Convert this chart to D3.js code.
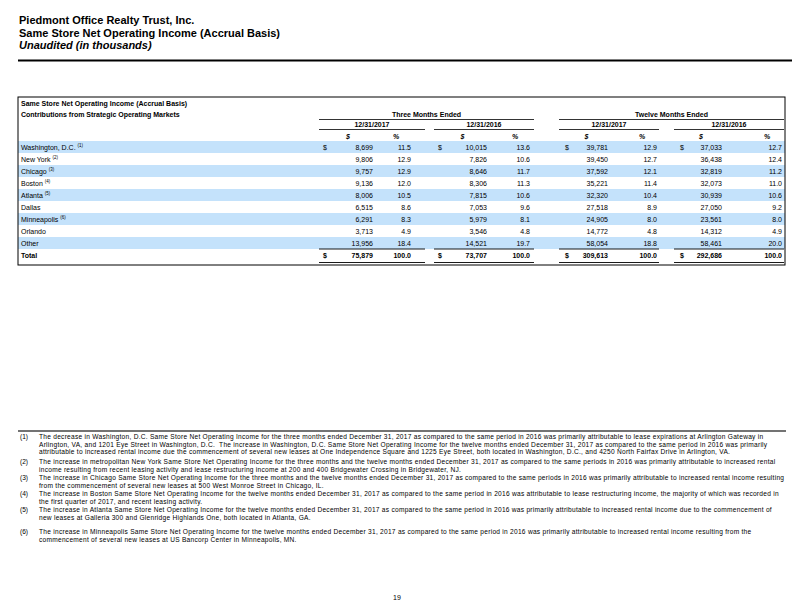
<!DOCTYPE html>
<html>
<head>
<meta charset="utf-8">
<script src="https://cdn.jsdelivr.net/npm/d3@7"></script>
<style>
  body { margin: 0; background: #fff; }
  svg text { font-family: "Liberation Sans", Arial, sans-serif; fill: #000; }
</style>
</head>
<body>
<div id="page"></div>
<script>
// table data
const markets = ["Washington, D.C.", "New York", "Chicago", "Boston", "Atlanta", "Dallas", "Minneapolis", "Orlando", "Other"];
const marketNotes = [1, 2, 3, 4, 5, null, 6, null, null];

const q4_2017 = [8699, 9806, 9757, 9136, 8006, 6515, 6291, 3713, 13956];
const q4_2017Pct = [11.5, 12.9, 12.9, 12.0, 10.5, 8.6, 8.3, 4.9, 18.4];
const q4_2016 = [10015, 7826, 8646, 8306, 7815, 7053, 5979, 3546, 14521];
const q4_2016Pct = [13.6, 10.6, 11.7, 11.3, 10.6, 9.6, 8.1, 4.8, 19.7];
const fy_2017 = [39781, 39450, 37592, 35221, 32320, 27518, 24905, 14772, 58054];
const fy_2017Pct = [12.9, 12.7, 12.1, 11.4, 10.4, 8.9, 8.0, 4.8, 18.8];
const fy_2016 = [37033, 36438, 32819, 32073, 30939, 27050, 23561, 14312, 58461];
const fy_2016Pct = [12.7, 12.4, 11.2, 11.0, 10.6, 9.2, 8.0, 4.9, 20.0];

const totals = [75879, 73707, 309613, 292686];
const totalPct = [100.0, 100.0, 100.0, 100.0];

const periods = ["Three Months Ended", "Twelve Months Ended"];
const dates = ["12/31/2017", "12/31/2016", "12/31/2017", "12/31/2016"];

const footnotes = [
  ["The decrease in Washington, D.C. Same Store Net Operating Income for the three months ended December 31, 2017 as compared to the same period in 2016 was primarily attributable to lease expirations at Arlington Gateway in",
   "Arlington, VA, and 1201 Eye Street in Washington, D.C.  The increase in Washington, D.C. Same Store Net Operating Income for the twelve months ended December 31, 2017 as compared to the same period in 2016 was primarily",
   "attributable to increased rental income due the commencement of several new leases at One Independence Square and 1225 Eye Street, both located in Washington, D.C., and 4250 North Fairfax Drive in Arlington, VA."],
  ["The increase in metropolitan New York Same Store Net Operating Income for the three months and the twelve months ended December 31, 2017 as compared to the same periods in 2016 was primarily attributable to increased rental",
   "income resulting from recent leasing activity and lease restructuring income at 200 and 400 Bridgewater Crossing in Bridgewater, NJ."],
  ["The increase in Chicago Same Store Net Operating Income for the three months and the twelve months ended December 31, 2017 as compared to the same periods in 2016 was primarily attributable to increased rental income resulting",
   "from the commencement of several new leases at 500 West Monroe Street in Chicago, IL."],
  ["The increase in Boston Same Store Net Operating Income for the twelve months ended December 31, 2017 as compared to the same period in 2016 was attributable to lease restructuring income, the majority of which was recorded in",
   "the first quarter of 2017, and recent leasing activity."],
  ["The increase in Atlanta Same Store Net Operating Income for the twelve months ended December 31, 2017 as compared to the same period in 2016 was primarily attributable to increased rental income due to the commencement of",
   "new leases at Galleria 300 and Glenridge Highlands One, both located in Atlanta, GA."],
  ["The increase in Minneapolis Same Store Net Operating Income for the twelve months ended December 31, 2017 as compared to the same period in 2016 was primarily attributable to increased rental income resulting from the",
   "commencement of several new leases at US Bancorp Center in Minneapolis, MN."]
];

const W = 792, H = 612;
const svg = d3.select("#page").append("svg").attr("width", W).attr("height", H);

// page heading
const heading = svg.append("g").attr("font-size", 11).attr("font-weight", "bold");
heading.append("text").attr("x", 19).attr("y", 24).text("Piedmont Office Realty Trust, Inc.");
heading.append("text").attr("x", 19).attr("y", 36.5).text("Same Store Net Operating Income (Accrual Basis)");
heading.append("text").attr("x", 19).attr("y", 49).attr("font-style", "italic").text("Unaudited (in thousands)");
heading.append("line").attr("x1", 18).attr("x2", W).attr("y1", 60.5).attr("y2", 60.5)
  .attr("stroke", "#000").attr("stroke-width", 2);

// table geometry
const box = {left: 18, right: 785, top: 97, bottom: 265};
const cols = [
  {x0: 319, x1: 425, dollar: 323, val: 373, pct: 411},
  {x0: 434, x1: 534, dollar: 438, val: 487, pct: 530},
  {x0: 559, x1: 659, dollar: 565, val: 608, pct: 657},
  {x0: 674, x1: 784, dollar: 680, val: 722, pct: 782}
];
const periodSpan = [[319, 534], [559, 784]];

const rowNames = markets.concat(["Total"]);
const y = d3.scaleBand().domain(rowNames).range([141, 261]);
const fmtVal = d3.format(",");
const fmtPct = d3.format(".1f");
const values = [q4_2017, q4_2016, fy_2017, fy_2016];
const pcts = [q4_2017Pct, q4_2016Pct, fy_2017Pct, fy_2016Pct];

const table = svg.append("g").attr("font-size", 7);

// striped rows
table.selectAll("rect.stripe").data(markets.filter((d, i) => i % 2 === 0))
  .enter().append("rect").attr("class", "stripe")
  .attr("x", box.left).attr("width", box.right - box.left)
  .attr("y", d => y(d)).attr("height", y.bandwidth())
  .attr("fill", "#c4e2fb");

table.append("rect").attr("x", box.left).attr("y", box.top)
  .attr("width", box.right - box.left).attr("height", box.bottom - box.top)
  .attr("fill", "none").attr("stroke", "#000").attr("stroke-width", 1);

// header block
table.append("text").attr("x", 21).attr("y", 105.5).attr("font-weight", "bold")
  .text("Same Store Net Operating Income (Accrual Basis)");
table.append("text").attr("x", 21).attr("y", 116.5).attr("font-weight", "bold")
  .text("Contributions from Strategic Operating Markets");

table.selectAll("text.period").data(periods).enter().append("text")
  .attr("class", "period").attr("font-weight", "bold").attr("text-anchor", "middle")
  .attr("x", (d, i) => (periodSpan[i][0] + periodSpan[i][1]) / 2).attr("y", 116.5)
  .text(d => d);
table.selectAll("line.period").data(periodSpan).enter().append("line")
  .attr("class", "period").attr("stroke", "#000").attr("stroke-width", 0.8)
  .attr("x1", d => d[0]).attr("x2", d => d[1]).attr("y1", 119.5).attr("y2", 119.5);

table.selectAll("text.date").data(dates).enter().append("text")
  .attr("class", "date").attr("font-weight", "bold").attr("text-anchor", "middle")
  .attr("x", (d, i) => (cols[i].x0 + cols[i].x1) / 2).attr("y", 127)
  .text(d => d);
table.selectAll("line.date").data(cols).enter().append("line")
  .attr("class", "date").attr("stroke", "#000").attr("stroke-width", 0.8)
  .attr("x1", d => d.x0).attr("x2", d => d.x1).attr("y1", 129.5).attr("y2", 129.5);

cols.forEach(c => {
  table.append("text").attr("font-weight", "bold").attr("font-style", "italic").attr("text-anchor", "middle")
    .attr("x", (c.dollar + c.val) / 2).attr("y", 138.5).text("$");
  table.append("text").attr("font-weight", "bold").attr("font-style", "italic").attr("text-anchor", "middle")
    .attr("x", c.pct - 15).attr("y", 138.5).text("%");
});

// market rows
const base = d => y(d) + 8.5;
const labels = table.selectAll("text.market").data(markets).enter().append("text")
  .attr("class", "market").attr("x", 21).attr("y", base);
labels.append("tspan").text(d => d);
labels.filter((d, i) => marketNotes[i] != null).append("tspan")
  .attr("font-size", 4.5).attr("dx", 2).attr("dy", -2.8)
  .text(d => "(" + marketNotes[markets.indexOf(d)] + ")");

cols.forEach((c, k) => {
  table.append("text").attr("x", c.dollar).attr("y", base(markets[0])).text("$");
  table.selectAll(null).data(values[k]).enter().append("text")
    .attr("text-anchor", "end").attr("x", c.val).attr("y", (d, i) => base(markets[i]))
    .text(d => fmtVal(d));
  table.selectAll(null).data(pcts[k]).enter().append("text")
    .attr("text-anchor", "end").attr("x", c.pct).attr("y", (d, i) => base(markets[i]))
    .text(d => fmtPct(d));
});

// total row
table.append("text").attr("x", 21).attr("y", base("Total")).attr("font-weight", "bold").text("Total");
cols.forEach((c, k) => {
  const g = table.append("g").attr("font-weight", "bold");
  g.append("text").attr("x", c.dollar).attr("y", base("Total")).text("$");
  g.append("text").attr("text-anchor", "end").attr("x", c.val).attr("y", base("Total")).text(fmtVal(totals[k]));
  g.append("text").attr("text-anchor", "end").attr("x", c.pct).attr("y", base("Total")).text(fmtPct(totalPct[k]));
  [y("Total"), y("Total") + y.bandwidth() + 1.5].forEach(ly => {
    table.append("line").attr("stroke", "#000").attr("stroke-width", 0.9)
      .attr("x1", c.x0).attr("x2", c.x1).attr("y1", ly).attr("y2", ly);
  });
});

// footnotes
svg.append("line").attr("x1", 18).attr("x2", 786).attr("y1", 431).attr("y2", 431)
  .attr("stroke", "#444").attr("stroke-width", 1.5);
const noteTop = [437, 462, 478, 494, 510, 532];
const notes = svg.append("g").attr("font-size", 6.6);
footnotes.forEach((lines, i) => {
  notes.append("text").attr("x", 20).attr("y", noteTop[i] + 2.4).text("(" + (i + 1) + ")");
  lines.forEach((ln, j) => {
    notes.append("text").attr("x", 39).attr("y", noteTop[i] + 2.4 + j * 7.5)
      .attr("letter-spacing", 0.26).attr("xml:space", "preserve").text(ln);
  });
});

svg.append("text").attr("x", 397).attr("y", 599.5).attr("font-size", 7).attr("text-anchor", "middle").text("19");
</script>
</body>
</html>
